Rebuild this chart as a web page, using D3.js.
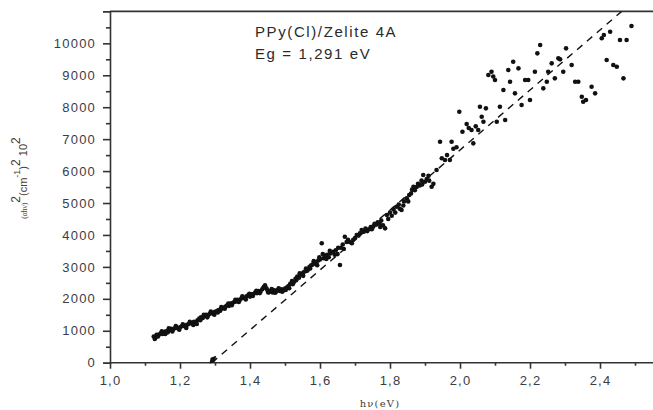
<!DOCTYPE html>
<html>
<head>
<meta charset="utf-8">
<script src="https://cdn.jsdelivr.net/npm/d3@7"></script>
<style>
  body { margin: 0; background: #fff; }
  svg { display: block; }
</style>
</head>
<body>
<div id="chart"></div>
<script>
// (ahv)^2 vs hv
const lowBand = [
  [1.125, 820], [1.13, 790], [1.133, 870], [1.14, 880], [1.145, 920], [1.15, 900],
  [1.155, 960], [1.16, 980], [1.165, 950], [1.17, 1020], [1.175, 1060], [1.18, 1040],
  [1.185, 1080], [1.19, 1100], [1.195, 1070], [1.2, 1110], [1.205, 1140], [1.21, 1160],
  [1.215, 1130], [1.22, 1190], [1.225, 1210], [1.23, 1250], [1.235, 1230], [1.24, 1280],
  [1.245, 1260], [1.25, 1330], [1.255, 1380], [1.26, 1420], [1.265, 1400], [1.27, 1460],
  [1.275, 1500], [1.28, 1480], [1.285, 1530], [1.29, 1560], [1.295, 1540], [1.3, 1590],
  [1.305, 1610], [1.31, 1650], [1.315, 1630], [1.32, 1700], [1.325, 1720], [1.33, 1760],
  [1.335, 1800], [1.34, 1780], [1.345, 1850], [1.35, 1870], [1.355, 1900], [1.36, 1920],
  [1.365, 1970], [1.37, 1950], [1.375, 2010], [1.38, 2040], [1.385, 2020], [1.39, 2080],
  [1.395, 2110], [1.4, 2070], [1.405, 2140], [1.41, 2150], [1.415, 2200], [1.42, 2180],
  [1.425, 2240], [1.43, 2220], [1.435, 2300], [1.44, 2380], [1.443, 2420], [1.447, 2330],
  [1.45, 2260], [1.455, 2210], [1.46, 2250], [1.465, 2200], [1.47, 2270], [1.475, 2230],
  [1.48, 2280], [1.485, 2250], [1.49, 2300], [1.495, 2260], [1.5, 2320], [1.505, 2350],
  [1.51, 2400], [1.515, 2470], [1.52, 2560], [1.525, 2520], [1.53, 2630], [1.535, 2700],
  [1.54, 2660], [1.545, 2760], [1.55, 2800], [1.555, 2850], [1.56, 2950], [1.565, 2900],
  [1.57, 3000], [1.575, 3050], [1.58, 3080], [1.585, 3150], [1.59, 3100], [1.595, 3200],
  [1.6, 3230]
];

// second row of points that thickens the band
const lowBandSpread = [
  [1.128, 740], [1.137, 820], [1.148, 980], [1.158, 900], [1.168, 1080], [1.178, 980],
  [1.188, 1150], [1.198, 1030], [1.208, 1200], [1.218, 1090], [1.228, 1280], [1.238, 1180],
  [1.248, 1210], [1.258, 1330], [1.268, 1500], [1.278, 1420], [1.288, 1600], [1.298, 1500],
  [1.308, 1570], [1.318, 1740], [1.328, 1690], [1.338, 1850], [1.348, 1800], [1.358, 1970],
  [1.368, 1900], [1.378, 2080], [1.388, 1980], [1.398, 2160], [1.408, 2090], [1.418, 2250],
  [1.428, 2180], [1.438, 2340], [1.452, 2200], [1.462, 2310], [1.472, 2190], [1.482, 2330],
  [1.492, 2220], [1.502, 2280], [1.512, 2330], [1.522, 2460], [1.532, 2580], [1.542, 2800],
  [1.552, 2720], [1.562, 2870], [1.572, 2950], [1.582, 3180], [1.592, 3050], [1.598, 3300]
];

const midRange = [
  [1.605, 3738], [1.61, 3269], [1.615, 3320], [1.62, 3380], [1.625, 3300], [1.63, 3420],
  [1.638, 3475], [1.645, 3520], [1.65, 3400], [1.657, 3059], [1.66, 3600], [1.665, 3700],
  [1.671, 3945], [1.68, 3850], [1.685, 3780], [1.691, 3738], [1.7, 3900], [1.705, 4000],
  [1.71, 3980], [1.719, 4155], [1.725, 4100], [1.73, 4200], [1.74, 4180], [1.745, 4250],
  [1.752, 4258], [1.76, 4320], [1.765, 4400], [1.77, 4350], [1.775, 4450], [1.78, 4300],
  [1.786, 4207], [1.791, 4624], [1.8, 4700], [1.805, 4600], [1.81, 4800], [1.819, 4884],
  [1.825, 4950], [1.833, 4781], [1.84, 5050], [1.848, 5147], [1.855, 5250], [1.86, 5300],
  [1.867, 5510], [1.871, 5400], [1.88, 5600], [1.885, 5550], [1.89, 5700], [1.895, 5877],
  [1.9, 5667], [1.905, 5750], [1.91, 5850], [1.919, 5510], [1.924, 5600], [1.933, 6033]
];

const midSpread = [
  [1.608, 3400], [1.618, 3250], [1.628, 3500], [1.642, 3380], [1.652, 3600], [1.668, 3560],
  [1.676, 3780], [1.695, 3850], [1.714, 4050], [1.735, 4120], [1.748, 4180], [1.756, 4350],
  [1.772, 4250], [1.795, 4500], [1.815, 4700], [1.828, 4820], [1.838, 4920], [1.852, 5050],
  [1.863, 5420], [1.876, 5500], [1.892, 5580], [1.912, 5700]
];

const highScatter = [
  [1.943, 6919], [1.948, 6400], [1.957, 6346], [1.963, 6500], [1.971, 6346], [1.976, 6919],
  [1.981, 6700], [1.99, 6744], [1.998, 7859], [2.007, 7232], [2.019, 7473], [2.025, 7350],
  [2.033, 7285], [2.038, 6869], [2.045, 7400], [2.052, 7285], [2.057, 8015], [2.062, 7700],
  [2.067, 7545], [2.074, 7965], [2.081, 9008], [2.09, 9111], [2.095, 8960], [2.1, 8851],
  [2.105, 7545], [2.114, 8015], [2.124, 8538], [2.129, 7599], [2.138, 9164], [2.143, 8798],
  [2.152, 9424], [2.157, 8434], [2.167, 9217], [2.176, 8068], [2.186, 8851], [2.195, 8851],
  [2.2, 8225], [2.214, 9111], [2.221, 9687], [2.229, 9947], [2.238, 8590], [2.248, 8798],
  [2.252, 9111], [2.262, 9374], [2.271, 8903], [2.281, 9530], [2.286, 9499], [2.295, 9111],
  [2.303, 9843], [2.319, 9322], [2.329, 8798], [2.338, 8798], [2.348, 8328], [2.352, 8172],
  [2.36, 8225], [2.376, 8641], [2.386, 8434], [2.405, 10157], [2.411, 10260], [2.419, 9477],
  [2.429, 10363], [2.438, 9322], [2.448, 9268], [2.457, 10103], [2.467, 8903], [2.476, 10103],
  [2.49, 10542]
];

// linear fit extrapolated to the x axis
const fitLine = [[1.291, 0], [2.462, 11000]];
const egValue = 1.291;

const xMajor = [1.0, 1.2, 1.4, 1.6, 1.8, 2.0, 2.2, 2.4];
const xMinor = [1.1, 1.3, 1.5, 1.7, 1.9, 2.1, 2.3, 2.5];
const yMajor = d3.range(0, 10001, 1000);
const yMinor = d3.range(500, 11000, 1000);

const labels = ["PPy(Cl)/Zelite 4A", "Eg = 1,291 eV"];

const W = 653, H = 410;
const m = {left: 110, right: 655, top: 11.4, bottom: 362.7};

const svg = d3.select("#chart").append("svg")
  .attr("width", W).attr("height", H)
  .style("font-family", "Arial, 'Liberation Sans', sans-serif");

const x = d3.scaleLinear().domain([1.0, 1.0 + (m.right - m.left) / 350]).range([m.left, m.right]);
const y = d3.scaleLinear().domain([0, 11000]).range([m.bottom, m.top]);

const fmtX = d3.format(".1f");
const axisColor = "#333";
const labelColor = "#3c3c44";

// top frame line
svg.append("line")
  .attr("x1", m.left).attr("x2", W + 2)
  .attr("y1", y(11000)).attr("y2", y(11000))
  .attr("stroke", axisColor).attr("stroke-width", 1.6);

// x axis
const gx = svg.append("g").attr("transform", `translate(0,${m.bottom})`);
gx.call(d3.axisBottom(x).tickValues(xMajor).tickSize(6).tickPadding(7)
  .tickFormat(d => fmtX(d).replace(".", ",")));
gx.append("g").call(d3.axisBottom(x).tickValues(xMinor).tickSize(3).tickFormat(""))
  .select(".domain").remove();

// y axis
const gy = svg.append("g").attr("transform", `translate(${m.left},0)`);
gy.call(d3.axisLeft(y).tickValues(yMajor).tickSize(7).tickPadding(7).tickFormat(d => d));
gy.append("g").call(d3.axisLeft(y).tickValues(yMinor).tickSize(4).tickFormat(""))
  .select(".domain").remove();

svg.selectAll(".domain").attr("stroke", axisColor).attr("stroke-width", 1.6);
svg.selectAll(".tick line").attr("stroke", axisColor).attr("stroke-width", 1.6);
svg.selectAll(".tick text")
  .attr("fill", labelColor)
  .style("font-size", "13px")
  .style("letter-spacing", "1.2px")
  .style("font-family", "Arial, 'Liberation Sans', sans-serif");
gx.select(".domain").attr("d", `M${m.left},0H${W + 2}`);

// fit line
svg.append("clipPath").attr("id", "plot")
  .append("rect").attr("x", m.left).attr("y", m.top)
  .attr("width", W - m.left).attr("height", m.bottom - m.top);

svg.append("path")
  .datum(fitLine)
  .attr("clip-path", "url(#plot)")
  .attr("d", d3.line().x(d => x(d[0])).y(d => y(d[1])))
  .attr("fill", "none")
  .attr("stroke", "#111")
  .attr("stroke-width", 1.4)
  .attr("stroke-dasharray", "7,6");

// small marker where the fit meets the axis
svg.append("path")
  .attr("d", d3.symbol(d3.symbolDiamond, 30)())
  .attr("transform", `translate(${x(egValue) + 1},${y(0) - 3}) rotate(40)`)
  .attr("fill", "#111");

// data points
const allPoints = lowBand.concat(lowBandSpread, midRange, midSpread, highScatter);
svg.append("g")
  .selectAll("circle")
  .data(allPoints)
  .join("circle")
  .attr("cx", d => x(d[0]))
  .attr("cy", d => y(d[1]))
  .attr("r", 2.3)
  .attr("fill", "#111");

// annotation
svg.append("g")
  .selectAll("text")
  .data(labels)
  .join("text")
  .attr("x", 255)
  .attr("y", (d, i) => 37 + i * 22)
  .attr("fill", "#2a2a2a")
  .style("font-size", "15px")
  .style("letter-spacing", "1.6px")
  .text(d => d);

// x axis title
svg.append("text")
  .attr("x", 380).attr("y", 407)
  .attr("text-anchor", "middle")
  .attr("fill", "#4a3c30")
  .style("font-family", "'DejaVu Serif', 'Liberation Serif', serif")
  .style("font-size", "10px")
  .style("letter-spacing", "1.2px")
  .text("hν(eV)");

// y axis title
const yt = svg.append("text")
  .attr("transform", "translate(27,178) rotate(-90)")
  .attr("text-anchor", "middle")
  .attr("fill", "#4a3c30")
  .style("font-size", "11px");
yt.append("tspan").style("font-family", "'Liberation Serif', serif").style("font-size", "7.5px").text("(αhν)");
yt.append("tspan").attr("dy", -7).style("font-size", "12px").text("2");
yt.append("tspan").attr("dy", 7).text("(cm");
yt.append("tspan").attr("dy", -7).style("font-size", "9px").text("-1");
yt.append("tspan").attr("dy", 7).text(")");
yt.append("tspan").attr("dy", -7).style("font-size", "12px").text("2");
yt.append("tspan").attr("dy", 7).text(" 10");
yt.append("tspan").attr("dy", -7).style("font-size", "12px").text("2");
</script>
</body>
</html>
